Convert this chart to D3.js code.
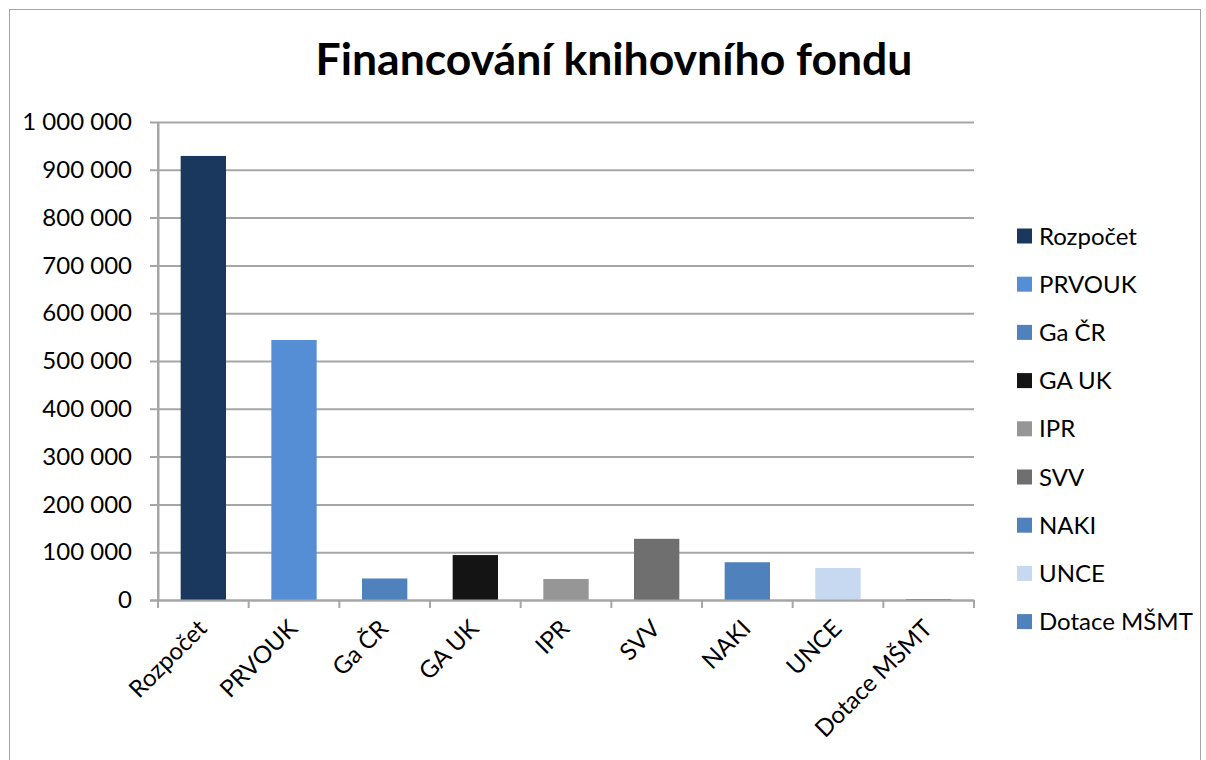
<!DOCTYPE html>
<html>
<head>
<meta charset="utf-8">
<script src="https://cdn.jsdelivr.net/npm/d3@7"></script>
<style>
  body { margin: 0; background: #fff; }
  text { font-family: Lato, "Open Sans", sans-serif; fill: #000; }
</style>
</head>
<body>
<script>
// data
var categories = ['Rozpočet', 'PRVOUK', 'Ga ČR', 'GA UK', 'IPR', 'SVV', 'NAKI', 'UNCE', 'Dotace MŠMT'];
var values = [929000, 544000, 45000, 94000, 44000, 128000, 79000, 67000, 2000];
var colors = ['#1a375e', '#558ed5', '#4f81bd', '#141414', '#969696', '#6f6f6f', '#4f81bd', '#c6d9f1', '#4f81bd'];
var yTicks = [0, 100000, 200000, 300000, 400000, 500000, 600000, 700000, 800000, 900000, 1000000];

var svg = d3.select('body')
  .append('svg')
  .attr('width', 1206)
  .attr('height', 760);

// chart frame
svg.append('rect')
  .attr('x', 9.5).attr('y', 9.5)
  .attr('width', 1191).attr('height', 770)
  .attr('fill', 'none')
  .attr('stroke', '#a6a6a6')
  .attr('stroke-width', 1);

//add title
svg.append('text')
  .attr('x', 614)
  .attr('y', 75)
  .attr('text-anchor', 'middle')
  .style('font-size', '44.5px')
  .style('font-weight', 'bold')
  .text('Financování knihovního fondu');

var xScale = d3.scaleBand().domain(categories).range([158, 974]).paddingInner(0.5).paddingOuter(0.25);
var yScale = d3.scaleLinear().domain([0, 1000000]).range([600, 122]);

var fmt = function (d) { return d3.format(',')(d).replace(/,/g, ' '); };

//gridlines
svg.append('g')
  .selectAll('line')
  .data(yTicks)
  .enter().append('line')
  .attr('x1', 150).attr('x2', 974)
  .attr('y1', function (d) { return yScale(d) + 0.5; })
  .attr('y2', function (d) { return yScale(d) + 0.5; })
  .attr('stroke', '#a6a6a6')
  .attr('stroke-width', 2);

//y axis
var yAxis = svg.append('g')
  .attr('transform', 'translate(158,0)')
  .call(d3.axisLeft(yScale).tickValues(yTicks).tickFormat(fmt).tickSize(0).tickPadding(26));
yAxis.select('.domain').attr('stroke', '#a6a6a6').attr('stroke-width', 2);
yAxis.selectAll('text').style('font-size', '24px').style('font-family', 'Lato, sans-serif').attr('fill', '#000');

//x axis ticks at band edges
var step = xScale.step();
var edges = d3.range(categories.length + 1).map(function (i) { return 158 + i * step; });
svg.append('g')
  .selectAll('line')
  .data(edges)
  .enter().append('line')
  .attr('x1', function (d) { return d; }).attr('x2', function (d) { return d; })
  .attr('y1', 600).attr('y2', 608)
  .attr('stroke', '#a6a6a6')
  .attr('stroke-width', 2);

//add bars
svg.selectAll('.bar')
  .data(categories)
  .enter().append('rect')
  .attr('class', 'bar')
  .attr('x', function (d) { return xScale(d); })
  .attr('y', function (d, i) { return yScale(values[i]); })
  .attr('width', xScale.bandwidth())
  .attr('height', function (d, i) { return 600 - yScale(values[i]); })
  .attr('fill', function (d, i) { return colors[i]; });

// axis lines drawn over the bars
svg.append('line')
  .attr('x1', 158).attr('x2', 158)
  .attr('y1', 122).attr('y2', 608)
  .attr('stroke', '#a6a6a6').attr('stroke-width', 2);
svg.append('line')
  .attr('x1', 150).attr('x2', 974)
  .attr('y1', 600.5).attr('y2', 600.5)
  .attr('stroke', '#a6a6a6').attr('stroke-width', 2);

//x labels
svg.append('g')
  .selectAll('text')
  .data(categories)
  .enter().append('text')
  .attr('text-anchor', 'end')
  .attr('transform', function (d) {
    return 'translate(' + (xScale(d) + xScale.bandwidth() / 2 + 5) + ',630) rotate(-45)';
  })
  .style('font-size', '24px')
  .text(function (d) { return d; });

//legend
var legend = svg.append('g')
  .selectAll('g')
  .data(categories)
  .enter().append('g')
  .attr('transform', function (d, i) { return 'translate(1017,' + (236 + i * 48.2) + ')'; });
legend.append('rect')
  .attr('x', 0).attr('y', -7.5)
  .attr('width', 15).attr('height', 15)
  .attr('fill', function (d, i) { return colors[i]; });
legend.append('text')
  .attr('x', 22)
  .attr('y', 8.5)
  .style('font-size', '24px')
  .text(function (d) { return d; });
</script>
</body>
</html>
